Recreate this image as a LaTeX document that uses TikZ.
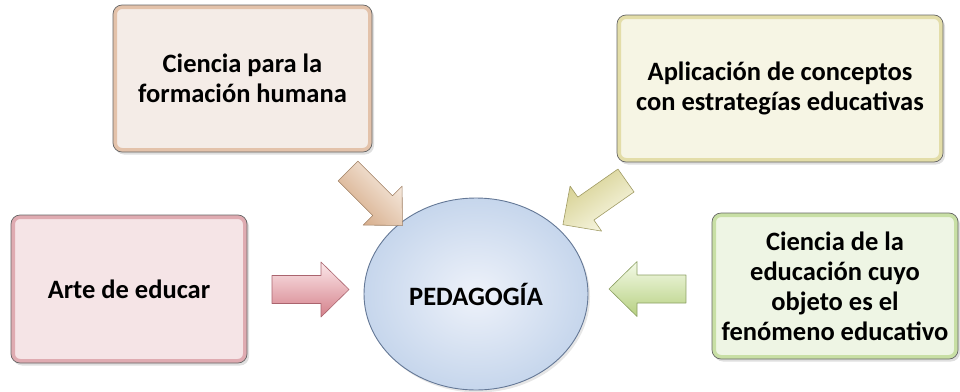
\documentclass[tikz,border=0pt]{standalone}
\usepackage{fontspec}
\setmainfont{Carlito}
\usetikzlibrary{shapes.geometric,shadows}

% box fills and edge glows
\definecolor{tanF}{RGB}{244,236,231}
\definecolor{tanG}{RGB}{214,160,120}
\definecolor{yelF}{RGB}{246,245,228}
\definecolor{yelG}{RGB}{212,202,120}
\definecolor{pinkF}{RGB}{245,228,230}
\definecolor{pinkG}{RGB}{205,125,135}
\definecolor{grnF}{RGB}{238,245,228}
\definecolor{grnG}{RGB}{170,205,115}
% arrow colours
\definecolor{tanL}{RGB}{248,238,228}
\definecolor{tanD}{RGB}{212,168,132}
\definecolor{tanB}{RGB}{160,128,100}
\definecolor{yelL}{RGB}{250,249,232}
\definecolor{yelD}{RGB}{212,206,140}
\definecolor{yelB}{RGB}{160,155,100}
\definecolor{pinkL}{RGB}{252,232,234}
\definecolor{pinkD}{RGB}{212,128,138}
\definecolor{pinkB}{RGB}{170,100,110}
\definecolor{grnL}{RGB}{244,250,232}
\definecolor{grnD}{RGB}{182,208,128}
\definecolor{grnB}{RGB}{140,160,100}
% central ellipse
\definecolor{bluIn}{RGB}{238,242,250}
\definecolor{bluOut}{RGB}{198,214,236}
\definecolor{bluB}{RGB}{100,120,150}

\newcommand\boxfont{\bfseries\fontsize{26.5}{30}\selectfont}

\tikzset{
  cbox/.style 2 args={
    rounded corners=9pt, draw=black!60, line width=0.7pt, fill=#1,
    align=center, inner sep=0pt, font=\boxfont,
    drop shadow={shadow xshift=2pt, shadow yshift=-2.5pt, opacity=.25},
    path picture={\draw[#2, line width=8pt, opacity=.55, rounded corners=9pt]
      (path picture bounding box.south west) rectangle
      (path picture bounding box.north east);}},
  pics/inarrow/.style args={#1/#2/#3/#4}{code={
    \path[draw=#3, line width=.6pt, line join=round,
          top color=#1, bottom color=#2, shading angle=#4]
      (0,-14) -- (49,-14) -- (49,-27.5) -- (77,0) -- (49,27.5)
      -- (49,14) -- (0,14) -- cycle;}}
}

\begin{document}
\begin{tikzpicture}[x=1pt, y=-1pt]
  \useasboundingbox (0,0) rectangle (960,391);

  % outer boxes
  \node[cbox={tanF}{tanG}, minimum width=259pt, minimum height=147pt]
    (ciencia) at (242.5,78.5) {Ciencia para la\\formación humana};
  \node[cbox={yelF}{yelG}, minimum width=326pt, minimum height=147pt]
    (aplic) at (780,88.5) {Aplicación de conceptos\\con estrategías educativas};
  \node[cbox={pinkF}{pinkG}, minimum width=236pt, minimum height=148pt]
    (arte) at (129,289) {Arte de educar};
  \node[cbox={grnF}{grnG}, minimum width=246pt, minimum height=146pt]
    (fenom) at (835,286) {Ciencia de la\\educación cuyo\\objeto es el\\fenómeno educativo};

  % central ellipse
  \node[ellipse, minimum width=224pt, minimum height=192pt, inner sep=0pt,
        draw=bluB, line width=.9pt, inner color=bluIn, outer color=bluOut,
        drop shadow={shadow xshift=2pt, shadow yshift=-2.5pt, opacity=.2},
        font=\boxfont] (ped) at (476,294) {PEDAGOGÍA};

  % block arrows pointing at the ellipse
  \coordinate (tA) at (348,171);
  \coordinate (tB) at (626,180.5);
  \coordinate (tC) at (272,289.5);
  \coordinate (tD) at (686,289);
  \pic[rotate=-45] at (tA) {inarrow=tanL/tanD/tanB/-45};
  \pic[rotate=-145] at (tB) {inarrow=yelD/yelL/yelB/35};
  \pic at (tC) {inarrow=pinkL/pinkD/pinkB/0};
  \pic[rotate=180] at (tD) {inarrow=grnL/grnD/grnB/0};
\end{tikzpicture}
\end{document}
